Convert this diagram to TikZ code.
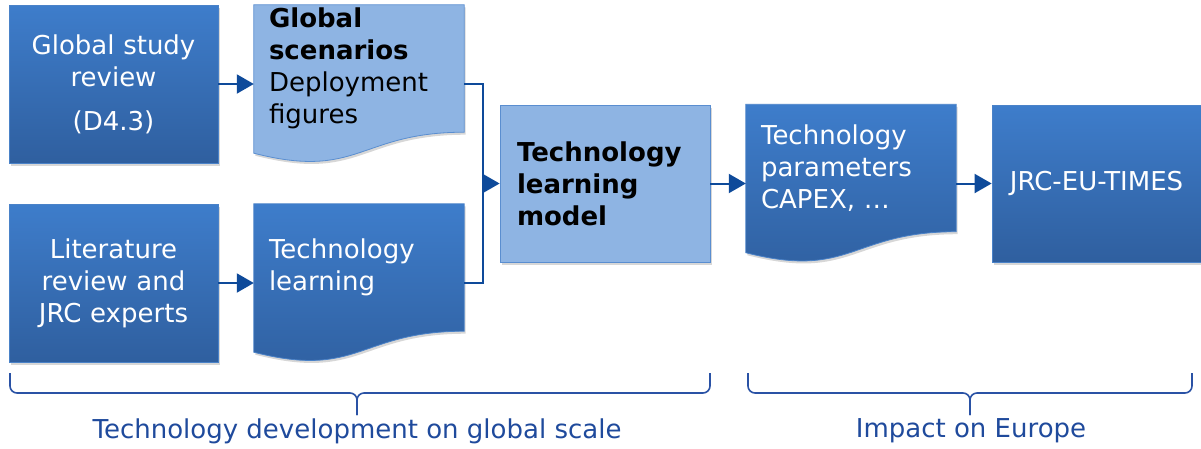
\documentclass[tikz,border=0pt]{standalone}
\usepackage{fontspec}
\setmainfont{DejaVu Sans}
\usetikzlibrary{positioning}
\usetikzlibrary{arrows.meta}
\usetikzlibrary{shadows}
\usetikzlibrary{backgrounds}
\usetikzlibrary{calc}

\definecolor{boxtop}{HTML}{3E7DCB}
\definecolor{boxbot}{HTML}{2F5F9F}
\definecolor{boxlight}{HTML}{8EB4E3}
\definecolor{edgedark}{HTML}{4A82C8}
\definecolor{edgelight}{HTML}{5A8ED0}
\definecolor{arrowblue}{HTML}{0E4A9A}
\definecolor{bracecol}{HTML}{2A52A5}
\definecolor{labelcol}{HTML}{1F4A9C}

% document outline below a text region node
\newcommand{\docshape}[2]{%
  \path[#1] (#2.north west) -- (#2.north east) -- (#2.south east)
    .. controls (#2.south) and ($(#2.south)+(0,48)$) .. ($(#2.south west)+(0,21)$) -- cycle;}

\begin{document}
\begin{tikzpicture}[x=1pt,y=-1pt,
  every node/.style={font=\fontsize{26}{32}\selectfont, inner sep=0pt},
  shadowed/.style={drop shadow={shadow xshift=1.5pt, shadow yshift=-2.5pt, opacity=.35, fill=black!45}},
  darkbox/.style={draw=edgedark, line width=.8pt, top color=boxtop, bottom color=boxbot, shadowed,
    text=white, minimum width=209pt, minimum height=158pt, text width=190pt, align=center},
  lightbox/.style={draw=edgelight, line width=.8pt, fill=boxlight, shadowed,
    minimum width=210pt, minimum height=157pt, text width=176pt, align=left, font=\fontsize{26}{32}\selectfont\bfseries},
  docregion/.style={minimum width=210pt, minimum height=127pt, text width=180pt, align=left},
  darkdoc/.style={draw=edgedark, line width=.8pt, top color=boxtop, bottom color=boxbot, shadowed},
  lightdoc/.style={draw=edgelight, line width=.8pt, fill=boxlight, shadowed},
  line/.style={arrowblue, line width=2pt},
  conn/.style={line, -{Triangle[length=17pt,width=19pt]}},
  bracket/.style={bracecol, line width=1.6pt, rounded corners=7pt},
  caption/.style={text=labelcol, font=\fontsize{26}{30}\selectfont}]

  \useasboundingbox (0,0) rectangle (1201,448);

  % boxes
  \node [darkbox]             (glob)  at (113.5,84)   {Global study\\review\\[12pt](D4.3)};
  \node [docregion]           (scen)  at (359,68.5)   {\textbf{Global}\\\textbf{scenarios}\\Deployment\\figures};
  \node [darkbox]             (lit)   at (113.5,283)  {Literature\\review and\\JRC experts};
  \node [docregion,text=white] (learn) at (359,267.5) {Technology\\learning};
  \node [lightbox]            (model) at (605,183.5)  {Technology\\learning\\model};
  \node [docregion,text=white] (par)  at (851,168)    {Technology\\parameters\\CAPEX, \dots};
  \node [darkbox,minimum height=157pt] (times) at (1096.5,183.5) {JRC-EU-TIMES};

  \begin{scope}[on background layer]
    \docshape{lightdoc}{scen}
    \docshape{darkdoc}{learn}
    \docshape{darkdoc}{par}
  \end{scope}

  % connectors
  \coordinate (join) at (483,183.5);
  \draw [conn] (glob) -- (glob -| scen.west);
  \draw [conn] (lit) -- (lit -| learn.west);
  \draw [line] (scen.east |- glob) -| (join);
  \draw [line] (learn.east |- lit) -| (join);
  \draw [conn] (join) -- (model);
  \draw [conn] (model) -- (model -| par.west);
  \draw [conn] (times -| par.east) -- (times);

  % braces
  \draw [bracket] (10,373) |- (357,393) -- (357,415);
  \draw [bracket] (710,373) |- (357,393) -- (357,415);
  \draw [bracket] (748,373) |- (970,393) -- (970,415);
  \draw [bracket] (1192,373) |- (970,393) -- (970,415);

  \node [caption] (globlab) at (357,431) {Technology development on global scale};
  \node [caption] (eulab)   at (971,431) {Impact on Europe};
\end{tikzpicture}
\end{document}
